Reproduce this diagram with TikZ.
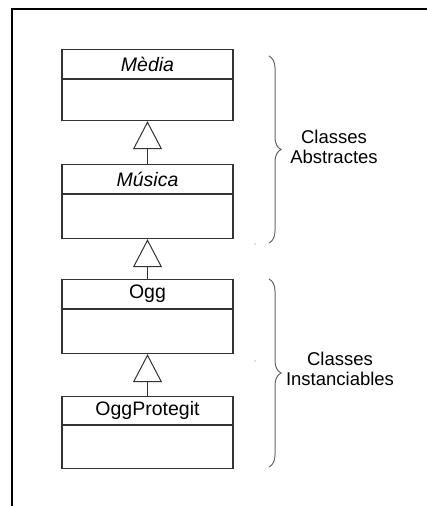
\documentclass[tikz,border=0pt]{standalone}
\usepackage{fontspec}
\setmainfont{Liberation Sans}
\usetikzlibrary{arrows.meta,decorations.pathreplacing,positioning}

\tikzset{
  umlhead/.style={draw=black!80, line width=1.1pt, minimum width=171pt,
    minimum height=29pt, inner sep=0pt, anchor=north,
    font=\fontsize{19.5}{21}\selectfont},
  umlbody/.style={draw=black!80, line width=1.1pt, minimum width=171pt,
    inner sep=0pt, anchor=north},
  inherits/.style={draw=black!80, line width=1pt,
    -{Triangle[open, length=28pt, width=29pt]}},
  groupbrace/.style={draw=black!60, line width=1pt,
    decorate, decoration={brace, amplitude=12pt, aspect=0.5}},
  grouplabel/.style={align=center, font=\fontsize{18.5}{20.5}\selectfont},
  frameline/.style={line width=2pt, black}
}

\begin{document}
\begin{tikzpicture}[x=1pt, y=-1pt]
  \useasboundingbox (0,0) rectangle (427,506);
  \fill[white] (0,0) rectangle (427,506);

  % outer frame: only top and left edges
  \draw[frameline] (12,506) -- (12,9) -- (427,9);

  % class boxes (name compartment + empty body)
  \node[umlhead] (media) at (147.5,49) {\itshape Mèdia};
  \node[umlbody, minimum height=41pt] (mediab) at (media.south) {};

  \node[umlhead] (musica) at (147.5,164) {\itshape Música};
  \node[umlbody, minimum height=44pt] (musicab) at (musica.south) {};

  \node[umlhead] (ogg) at (147.5,279) {Ogg};
  \node[umlbody, minimum height=44pt] (oggb) at (ogg.south) {};

  \node[umlhead, minimum height=28pt] (oggp) at (147.5,396) {OggProtegit};
  \node[umlbody, minimum height=43pt] (oggpb) at (oggp.south) {};

  % generalisation arrows
  \draw[inherits] (musica.north) -- (mediab.south);
  \draw[inherits] (ogg.north) -- (musicab.south);
  \draw[inherits] (oggp.north) -- (oggb.south);

  % group braces
  \coordinate (abs1) at (269,56);
  \coordinate (abs2) at (269,243);
  \coordinate (ins1) at (269,279);
  \coordinate (ins2) at (269,467);
  \draw[groupbrace] (abs1) -- (abs2);
  \draw[groupbrace] (ins1) -- (ins2);

  \node[grouplabel] (abslbl) at (334,147) {Classes\\Abstractes};
  \node[grouplabel] (inslbl) at (340,369) {Classes\\Instanciables};

  % small stray marks
  \fill[black!50] (255,244) circle (0.7pt);
  \fill[black!50] (255,361) circle (0.7pt);
\end{tikzpicture}
\end{document}
